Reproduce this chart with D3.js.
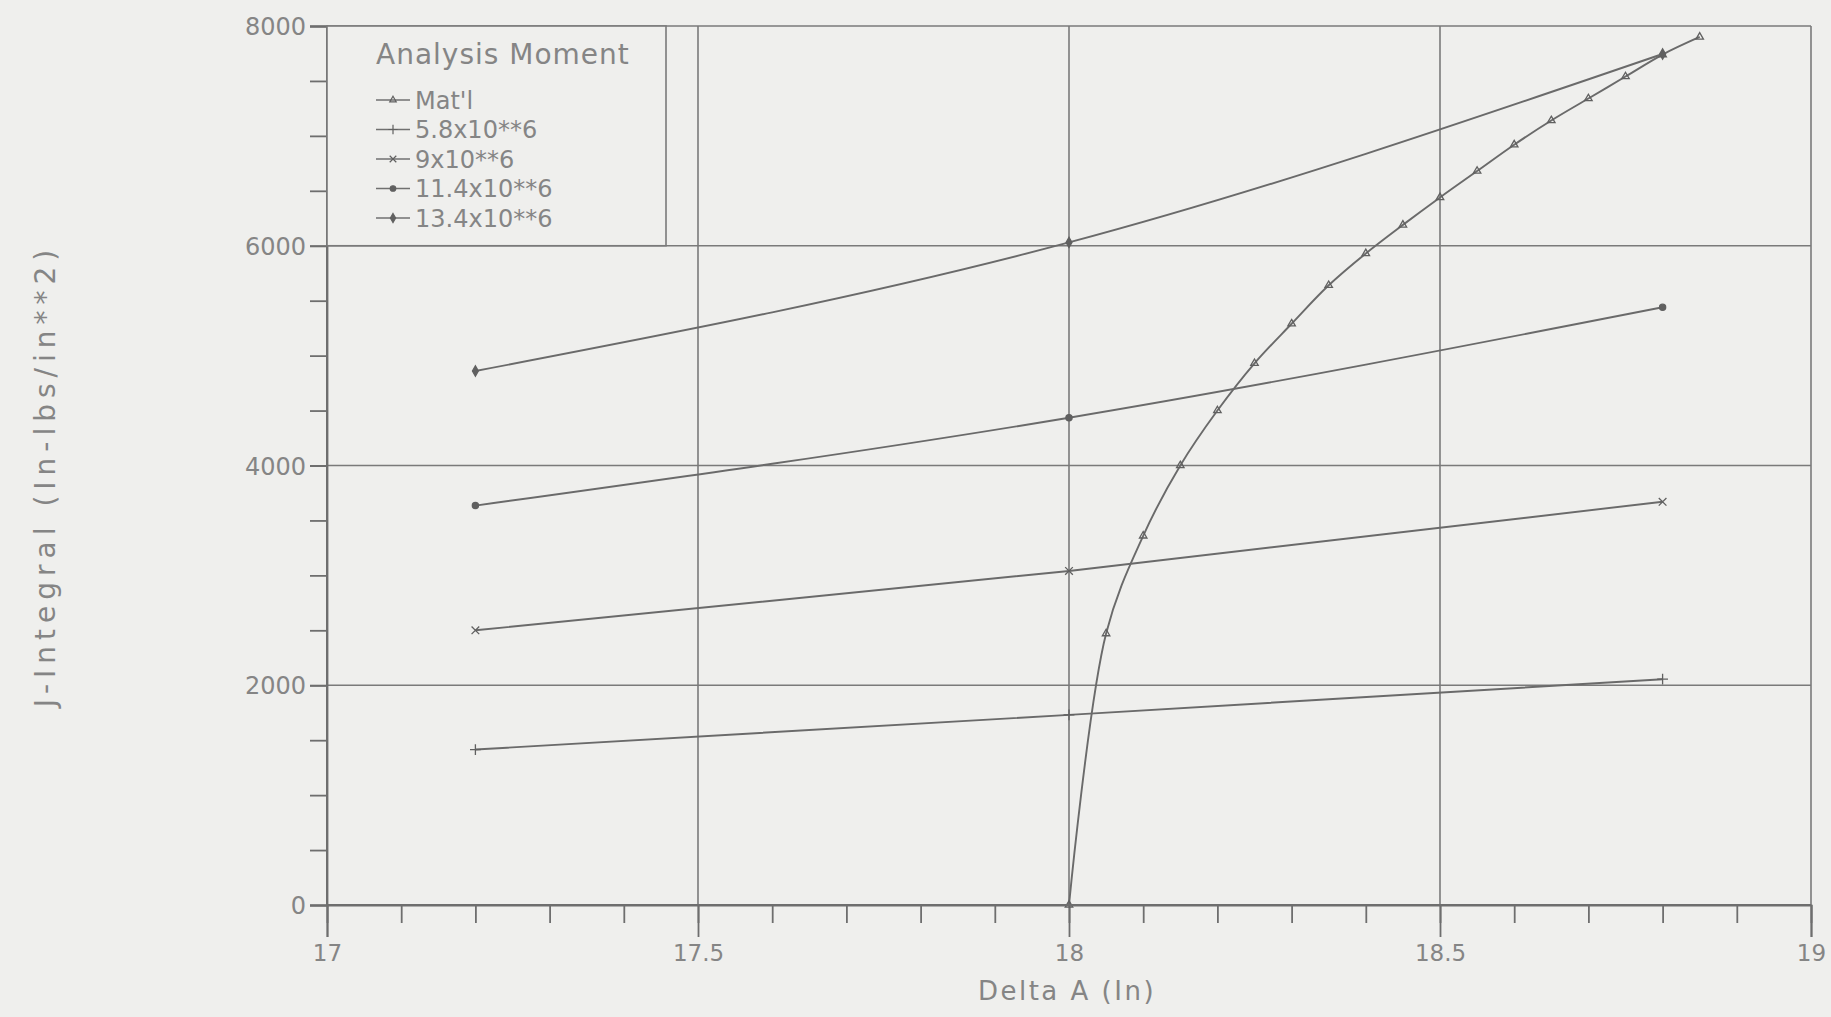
<!DOCTYPE html>
<html lang="en">
<head>
  <meta charset="UTF-8">
  <title>J-Integral vs Delta A</title>
  <script src="https://d3js.org/d3.v7.min.js"></script>
  <style>
    body { margin: 0; background: #efefed; }
    text {
      fill: #858585;
      font-family: 'DejaVu Sans', sans-serif;
    }
    .grid line { stroke: #7a7a7a; stroke-width: 1.6; }
    .axis path, .axis line { stroke: #6e6e6e; stroke-width: 1.8; }
    .series { fill: none; stroke: #6a6a6a; stroke-width: 1.9; }
  </style>
</head>
<body>
  <svg width="1831" height="1017"></svg>

  <script>
    // Data
    const xPoints = [17.2, 18, 18.8];
    const m58 = [1415, 1730, 2055];
    const m90 = [2500, 3040, 3670];
    const m114 = [3635, 4435, 5440];
    const m134 = [4860, 6030, 7745];

    const matX = [18, 18.05, 18.1, 18.15, 18.2, 18.25, 18.3, 18.35, 18.4, 18.45, 18.5, 18.55, 18.6, 18.65, 18.7, 18.75, 18.8, 18.85];
    const matY = [0, 2470, 3360, 4000, 4500, 4930, 5290, 5640, 5930, 6190, 6440, 6680, 6920, 7140, 7340, 7540, 7740, 7900];

    const xTicks = [17, 17.5, 18, 18.5, 19];
    const yTicks = [0, 2000, 4000, 6000, 8000];
    const legendLabels = ["Mat'l", "5.8x10**6", "9x10**6", "11.4x10**6", "13.4x10**6"];

    const svg = d3.select("svg");
    const margin = { top: 26, right: 20, bottom: 112, left: 327 };
    const width = +svg.attr("width") - margin.left - margin.right;
    const height = +svg.attr("height") - margin.top - margin.bottom;
    const g = svg.append("g").attr("transform", "translate(" + margin.left + "," + margin.top + ")");

    const x = d3.scaleLinear().domain([17, 19]).range([0, width]);
    const y = d3.scaleLinear().domain([0, 8000]).range([height, 0]);

    // grid
    const grid = g.append("g").attr("class", "grid");
    grid.selectAll(".hg").data(yTicks.slice(1)).enter().append("line")
      .attr("x1", 0).attr("x2", width)
      .attr("y1", d => y(d)).attr("y2", d => y(d));
    grid.selectAll(".vg").data(xTicks.slice(1)).enter().append("line")
      .attr("x1", d => x(d)).attr("x2", d => x(d))
      .attr("y1", 0).attr("y2", height);

    // x axis: minor ticks then major ticks with labels
    const xAxis = g.append("g").attr("class", "axis")
      .attr("transform", "translate(0," + height + ")");
    xAxis.call(d3.axisBottom(x).ticks(20).tickSize(18).tickFormat(""));
    xAxis.select(".domain").remove();
    const xMajor = g.append("g").attr("class", "axis")
      .attr("transform", "translate(0," + height + ")")
      .call(d3.axisBottom(x).tickValues(xTicks).tickSize(32).tickPadding(8).tickFormat(d3.format("")));
    xMajor.selectAll("text").style("font-size", "23px");

    // y axis
    const yAxis = g.append("g").attr("class", "axis")
      .call(d3.axisLeft(y).ticks(20).tickSize(17).tickFormat(""));
    yAxis.select(".domain").remove();
    const yMajor = g.append("g").attr("class", "axis")
      .call(d3.axisLeft(y).tickValues(yTicks).tickSize(17).tickPadding(4).tickFormat(d3.format("")));
    yMajor.selectAll("text").style("font-size", "24px").attr("dy", "0.36em");

    // series
    const series = [
      { name: legendLabels[0], xs: matX, ys: matY, sym: d3.symbolTriangle2, fill: false },
      { name: legendLabels[1], xs: xPoints, ys: m58, sym: d3.symbolPlus, fill: false },
      { name: legendLabels[2], xs: xPoints, ys: m90, sym: d3.symbolTimes, fill: false },
      { name: legendLabels[3], xs: xPoints, ys: m114, sym: d3.symbolCircle, fill: true },
      { name: legendLabels[4], xs: xPoints, ys: m134, sym: d3.symbolDiamond, fill: true }
    ];

    series.forEach((s, k) => {
      const pts = s.xs.map((v, i) => [v, s.ys[i]]);
      const line = d3.line()
        .x(d => x(d[0]))
        .y(d => y(d[1]))
        .curve(k === 0 ? d3.curveCatmullRom.alpha(0.5) : d3.curveMonotoneX);
      g.append("path").attr("class", "series").attr("d", line(pts));
      g.selectAll(null).data(pts).enter().append("path")
        .attr("transform", d => "translate(" + x(d[0]) + "," + y(d[1]) + ")")
        .attr("d", d3.symbol().type(s.sym).size(s.fill ? 30 : 40))
        .attr("fill", s.fill ? "#606060" : "none")
        .attr("stroke", "#606060")
        .attr("stroke-width", 1.3);
    });

    // axis frame
    g.append("line").attr("x1", 0).attr("x2", 0).attr("y1", 0).attr("y2", height)
      .attr("stroke", "#6e6e6e").attr("stroke-width", 2);
    g.append("line").attr("x1", 0).attr("x2", width).attr("y1", height).attr("y2", height)
      .attr("stroke", "#6e6e6e").attr("stroke-width", 2);

    // legend
    const lg = g.append("g");
    lg.append("rect")
      .attr("x", 0).attr("y", 0)
      .attr("width", 339).attr("height", y(6000))
      .attr("fill", "#efefed")
      .attr("stroke", "#7a7a7a").attr("stroke-width", 1.6);
    lg.append("text")
      .attr("x", 49).attr("y", 38)
      .style("font-size", "28px")
      .style("letter-spacing", "1px")
      .text("Analysis Moment");
    series.forEach((s, i) => {
      const ly = 74 + i * 29.5;
      lg.append("line")
        .attr("x1", 49).attr("x2", 83)
        .attr("y1", ly).attr("y2", ly)
        .attr("stroke", "#707070").attr("stroke-width", 1.6);
      lg.append("path")
        .attr("transform", "translate(66," + ly + ")")
        .attr("d", d3.symbol().type(s.sym).size(s.fill ? 24 : 30))
        .attr("fill", s.fill ? "#606060" : "none")
        .attr("stroke", "#606060").attr("stroke-width", 1.2);
      lg.append("text")
        .attr("x", 88).attr("y", ly).attr("dy", "0.36em")
        .style("font-size", "24px")
        .text(s.name);
    });

    // axis titles
    svg.append("text")
      .attr("x", margin.left + x(18) - 2)
      .attr("y", 1000)
      .attr("text-anchor", "middle")
      .style("font-size", "26px")
      .style("letter-spacing", "2.5px")
      .text("Delta A (In)");

    svg.append("text")
      .attr("transform", "translate(55," + (margin.top + height / 2 + 10) + ") rotate(-90)")
      .attr("text-anchor", "middle")
      .style("font-size", "28px")
      .style("letter-spacing", "6px")
      .text("J-Integral (In-lbs/in**2)");
  </script>
</body>
</html>
